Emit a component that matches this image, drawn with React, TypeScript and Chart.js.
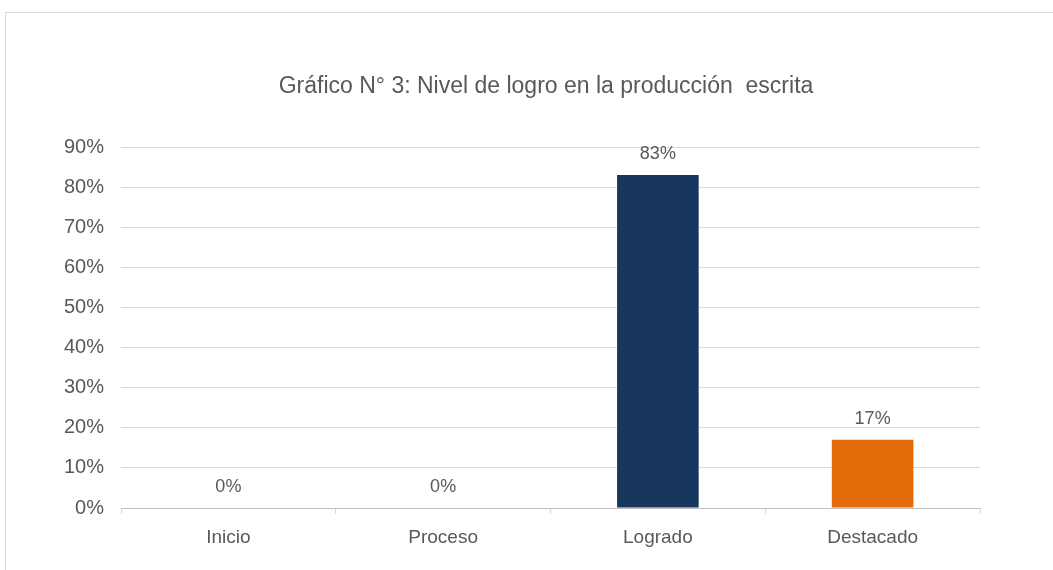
import React, { useEffect, useRef } from "react";
import { Chart, registerables } from "chart.js";

Chart.register(...registerables);

const TITLE = "Gráfico N° 3: Nivel de logro en la producción  escrita";
const categories = ["Inicio", "Proceso", "Logrado", "Destacado"];
const values = [0, 0, 83, 17];
const barColors = ["#17375E", "#17375E", "#17375E", "#E46C0A"];
const yTicks = [0, 10, 20, 30, 40, 50, 60, 70, 80, 90];

const FONT = "'Liberation Sans', Arial, sans-serif";
const TEXT = "#595959";

const valueLabels = {
  id: "valueLabels",
  afterDatasetsDraw(chart: any) {
    const ctx = chart.ctx;
    const meta = chart.getDatasetMeta(0);
    ctx.save();
    ctx.font = `18px ${FONT}`;
    ctx.fillStyle = TEXT;
    ctx.textAlign = "center";
    ctx.textBaseline = "alphabetic";
    meta.data.forEach((el: any, i: number) => {
      ctx.fillText(values[i] + "%", el.x, el.y - 16);
    });
    ctx.restore();
  },
};

const titlePlugin = {
  id: "customTitle",
  afterDraw(chart: any) {
    const ctx = chart.ctx;
    ctx.save();
    ctx.font = `23px ${FONT}`;
    ctx.fillStyle = TEXT;
    ctx.textAlign = "center";
    ctx.textBaseline = "alphabetic";
    ctx.fillText(TITLE, 546, 93);
    ctx.restore();
  },
};

export default function App() {
  const ref = useRef<HTMLCanvasElement | null>(null);
  useEffect(() => {
    document.body.style.margin = "0";
    const chart = new Chart(ref.current!, {
      type: "bar",
      data: {
        labels: categories,
        datasets: [
          {
            data: values,
            backgroundColor: barColors,
            barPercentage: 0.38,
            categoryPercentage: 1,
          },
        ],
      },
      options: {
        animation: false,
        responsive: false,
        devicePixelRatio: 1,
        layout: { padding: { left: 0, right: 73, top: 147, bottom: 0 } },
        plugins: {
          legend: { display: false },
          tooltip: { enabled: false },
          title: { display: false },
        },
        scales: {
          x: {
            grid: {
              offset: true,
              drawOnChartArea: false,
              drawTicks: true,
              tickLength: 6,
              color: "#d9d9d9",
            },
            border: { display: true, color: "#bfbfbf" },
            ticks: { color: TEXT, font: { family: FONT, size: 19 }, padding: 12 },
            afterFit: (s: any) => {
              s.height = 62;
            },
          },
          y: {
            min: 0,
            max: 90,
            afterBuildTicks: (s: any) => {
              s.ticks = yTicks.map((v) => ({ value: v }));
            },
            grid: { color: "#d9d9d9", drawTicks: false },
            border: { display: false },
            ticks: {
              color: TEXT,
              font: { family: FONT, size: 20 },
              padding: 17,
              callback: (v: any) => v + "%",
            },
            afterFit: (s: any) => {
              s.width = 121;
            },
          },
        },
      },
      plugins: [valueLabels, titlePlugin],
    });
    return () => chart.destroy();
  }, []);
  return (
    <div style={{ position: "relative", width: 1053, height: 570, background: "#fff" }}>
      <div
        style={{
          position: "absolute",
          left: 5,
          top: 12,
          width: 1060,
          height: 570,
          borderTop: "1px solid #d9d9d9",
          borderLeft: "1px solid #d9d9d9",
        }}
      />
      <canvas ref={ref} width={1053} height={570} style={{ position: "absolute", left: 0, top: 0 }} />
    </div>
  );
}
